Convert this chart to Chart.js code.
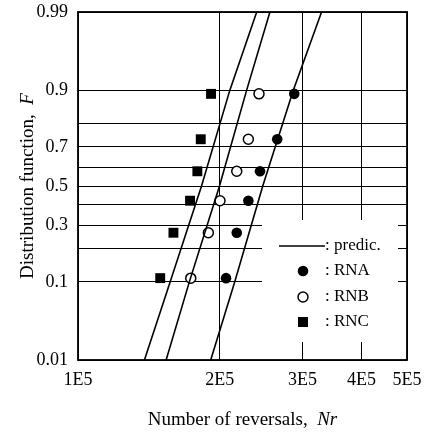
<!DOCTYPE html>
<html>
<head>
<meta charset="utf-8">
<script src="https://cdn.jsdelivr.net/npm/chart.js"></script>
<style>
  body { margin: 0; background: #fff; }
  #wrap { width: 429px; height: 432px; }
</style>
</head>
<body>
<div id="wrap"><canvas id="chart" width="429" height="432"></canvas></div>
<script>
// median ranks used for the test points
const probF = [0.109, 0.266, 0.422, 0.578, 0.734, 0.891];
// number of reversals for each series
const rnaN = [206300, 217400, 230100, 243600, 265000, 288000];
const rnbN = [173600, 189200, 200300, 217400, 230100, 242400];
const rncN = [149500, 159500, 173000, 179300, 182300, 191700];

// predicted lines
const predF = [0.01, 0.1, 0.5, 0.9, 0.99];
const predA = [191400, 215300, 246900, 286700, 329200];
const predB = [153900, 172400, 199800, 228200, 255700];
const predC = [138400, 157000, 183000, 210200, 239700];

// axes
const xTicks = [1e5, 2e5, 3e5, 4e5, 5e5];
const xTickLabels = ['1E5', '2E5', '3E5', '4E5', '5E5'];
const yGridF = [0.01, 0.1, 0.2, 0.3, 0.4, 0.5, 0.6, 0.7, 0.8, 0.9, 0.99];
const yLabelF = [0.01, 0.1, 0.3, 0.5, 0.7, 0.9, 0.99];

// inverse normal cdf (Acklam) -> probability paper scale
function probit(p) {
  const a = [-3.969683028665376e+01, 2.209460984245205e+02, -2.759285104469687e+02, 1.383577518672690e+02, -3.066479806614716e+01, 2.506628277459239e+00];
  const b = [-5.447609879822406e+01, 1.615858368580409e+02, -1.556989798598866e+02, 6.680131188771972e+01, -1.328068155288572e+01];
  const c = [-7.784894002430293e-03, -3.223964580411365e-01, -2.400758277161838e+00, -2.549732539343734e+00, 4.374664141464968e+00, 2.938163982698783e+00];
  const d = [7.784695709041462e-03, 3.224671290700398e-01, 2.445134137142996e+00, 3.754408661907416e+00];
  const pl = 0.02425;
  let q, r;
  if (p < pl) {
    q = Math.sqrt(-2 * Math.log(p));
    return (((((c[0]*q+c[1])*q+c[2])*q+c[3])*q+c[4])*q+c[5]) / ((((d[0]*q+d[1])*q+d[2])*q+d[3])*q+1);
  }
  if (p > 1 - pl) {
    q = Math.sqrt(-2 * Math.log(1 - p));
    return -(((((c[0]*q+c[1])*q+c[2])*q+c[3])*q+c[4])*q+c[5]) / ((((d[0]*q+d[1])*q+d[2])*q+d[3])*q+1);
  }
  q = p - 0.5; r = q * q;
  return (((((a[0]*r+a[1])*r+a[2])*r+a[3])*r+a[4])*r+a[5])*q / (((((b[0]*r+b[1])*r+b[2])*r+b[3])*r+b[4])*r+1);
}

const pts = (xs, fs) => xs.map((x, i) => ({ x: x, y: probit(fs[i]) }));
const SERIF = "'Liberation Serif', 'Times New Roman', serif";

function predLine(xs) {
  return { type: 'scatter', data: pts(xs, predF), showLine: true, borderColor: '#000',
           borderWidth: 1.6, pointRadius: 0, fill: false };
}

// white legend box, legend items, frame and axis titles
const framePlugin = {
  id: 'frame',
  beforeDatasetsDraw(chart) {
    const { ctx, chartArea: a } = chart;
    ctx.save();
    ctx.fillStyle = '#fff';
    ctx.fillRect(a.right - 145, a.top + 208, 136, 122);
    ctx.restore();
  },
  afterDatasetsDraw(chart) {
    const { ctx, chartArea: a } = chart;
    const mx = a.right - 104, tx = a.right - 82;
    ctx.save();
    ctx.strokeStyle = '#000';
    ctx.fillStyle = '#000';
    ctx.lineWidth = 1.6;
    ctx.beginPath();
    ctx.moveTo(a.right - 128, a.top + 234);
    ctx.lineTo(a.right - 82, a.top + 234);
    ctx.stroke();
    ctx.beginPath();
    ctx.arc(mx, a.top + 259, 5.3, 0, Math.PI * 2);
    ctx.fill();
    ctx.beginPath();
    ctx.arc(mx, a.top + 285, 5, 0, Math.PI * 2);
    ctx.fillStyle = '#fff';
    ctx.fill();
    ctx.lineWidth = 1.5;
    ctx.stroke();
    ctx.fillStyle = '#000';
    ctx.fillRect(mx - 5, a.top + 305, 10, 10);
    ctx.font = '17px ' + SERIF;
    ctx.textBaseline = 'middle';
    ctx.textAlign = 'left';
    ctx.fillText(': predic.', tx, a.top + 234);
    ctx.fillText(': RNA', tx, a.top + 259);
    ctx.fillText(': RNB', tx, a.top + 285);
    ctx.fillText(': RNC', tx, a.top + 310);
    ctx.restore();
  },
  afterDraw(chart) {
    const { ctx, chartArea: a } = chart;
    ctx.save();
    ctx.strokeStyle = '#000';
    ctx.lineWidth = 1.8;
    ctx.strokeRect(a.left, a.top, a.right - a.left, a.bottom - a.top);

    ctx.fillStyle = '#000';
    ctx.textBaseline = 'alphabetic';
    ctx.textAlign = 'left';
    const roman = '19px ' + SERIF, italic = 'italic 19px ' + SERIF;
    // x title
    let t1 = 'Number of reversals,  ', t2 = 'Nr';
    ctx.font = roman; let w1 = ctx.measureText(t1).width;
    ctx.font = italic; let w2 = ctx.measureText(t2).width;
    let x0 = (a.left + a.right) / 2 - (w1 + w2) / 2;
    ctx.font = roman; ctx.fillText(t1, x0, 425);
    ctx.font = italic; ctx.fillText(t2, x0 + w1, 425);
    // y title
    t1 = 'Distribution function,  '; t2 = 'F';
    ctx.font = roman; w1 = ctx.measureText(t1).width;
    ctx.font = italic; w2 = ctx.measureText(t2).width;
    ctx.translate(33, (a.top + a.bottom) / 2);
    ctx.rotate(-Math.PI / 2);
    x0 = -(w1 + w2) / 2;
    ctx.font = roman; ctx.fillText(t1, x0, 0);
    ctx.font = italic; ctx.fillText(t2, x0 + w1, 0);
    ctx.restore();
  }
};

new Chart(document.getElementById('chart'), {
  type: 'scatter',
  data: {
    datasets: [
      predLine(predA),
      predLine(predB),
      predLine(predC),
      { label: 'RNA', data: pts(rnaN, probF), pointStyle: 'circle', pointRadius: 5.3,
        backgroundColor: '#000', borderColor: '#000', borderWidth: 0 },
      { label: 'RNB', data: pts(rnbN, probF), pointStyle: 'circle', pointRadius: 5,
        backgroundColor: '#fff', borderColor: '#000', borderWidth: 1.5 },
      { label: 'RNC', data: pts(rncN, probF), pointStyle: 'rect', pointRadius: 7,
        backgroundColor: '#000', borderColor: '#000', borderWidth: 0 }
    ]
  },
  options: {
    responsive: false,
    animation: false,
    layout: { padding: { top: 12, right: 22, left: 0, bottom: 0 } },
    plugins: { legend: { display: false }, tooltip: { enabled: false } },
    scales: {
      x: {
        type: 'logarithmic', min: 1e5, max: 5e5,
        afterBuildTicks: axis => { axis.ticks = xTicks.map(v => ({ value: v })); },
        afterFit: axis => { axis.height = 72; axis.paddingLeft = 0; axis.paddingRight = 0; },
        border: { display: false },
        grid: { color: '#000', lineWidth: 1, drawTicks: false },
        ticks: { autoSkip: false, maxRotation: 0, padding: 9, color: '#000',
                 font: { family: SERIF, size: 18 },
                 callback: (v, i) => xTickLabels[i] }
      },
      y: {
        type: 'linear', min: probit(0.01), max: probit(0.99),
        afterBuildTicks: axis => { axis.ticks = yGridF.map(f => ({ value: probit(f) })); },
        afterFit: axis => { axis.width = 78; axis.paddingTop = 0; axis.paddingBottom = 0; },
        border: { display: false },
        grid: { color: '#000', lineWidth: 1, drawTicks: false },
        ticks: { autoSkip: false, padding: 10, color: '#000',
                 font: { family: SERIF, size: 18 },
                 callback: (v, i) => yLabelF.includes(yGridF[i]) ? String(yGridF[i]) : '' }
      }
    }
  },
  plugins: [framePlugin]
});
</script>
</body>
</html>
